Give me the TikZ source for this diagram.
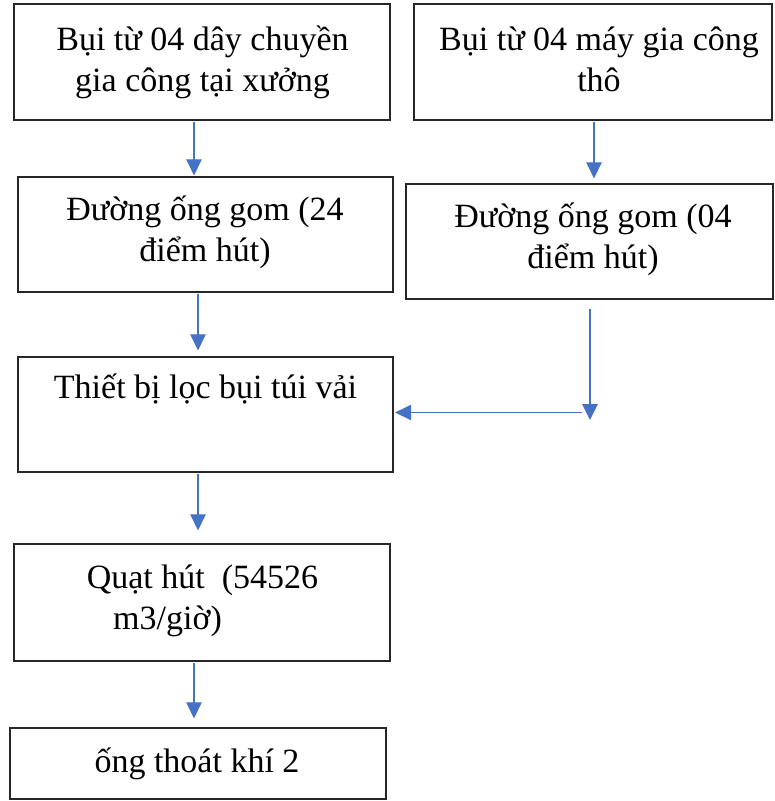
\documentclass[tikz,border=0pt]{standalone}
\usepackage{fontspec}
\setmainfont{Liberation Serif}
\usetikzlibrary{arrows.meta}

\definecolor{flowblue}{HTML}{4472C4}
\definecolor{boxline}{HTML}{262626}

\tikzset{
  box/.style={draw=boxline, line width=1.3pt, fill=white, inner sep=0pt},
  label/.style={inner sep=0pt, anchor=north, align=center,
    font=\fontsize{34}{41}\selectfont},
  arr/.style={draw=flowblue, line width=1.1pt,
    -{Triangle[width=15.5pt,length=16pt]}, flowblue}
}

% box from its two corners (pixel-like units, y pointing down)
\newcommand{\flowbox}[3]{%
  \node[box, minimum width=#3, minimum height=#2] (#1)}

\begin{document}
\begin{tikzpicture}[x=1pt, y=-1pt]
  \useasboundingbox (0,0) rectangle (775,801);

  % boxes
  \node[box, minimum width=376pt, minimum height=116pt] (b1) at (202,62) {};
  \node[box, minimum width=358pt, minimum height=116pt] (b2) at (593,62) {};
  \node[box, minimum width=375pt, minimum height=115pt] (b3) at (205.5,234.5) {};
  \node[box, minimum width=367pt, minimum height=115pt] (b4) at (589.5,241.5) {};
  \node[box, minimum width=375pt, minimum height=115pt] (b5) at (205.5,414.5) {};
  \node[box, minimum width=376pt, minimum height=117pt] (b6) at (202,602.5) {};
  \node[box, minimum width=376pt, minimum height=71pt] (b7) at (198,763.5) {};

  % texts (strut of 36pt puts the first baseline 36pt below the top)
  \newcommand{\fs}{\rule{0pt}{36pt}}
  \node[label] (t1) at (202.5,14) {\fs Bụi từ 04 dây chuyền\\gia công tại xưởng};
  \node[label] (t2) at (599,14) {\fs Bụi từ 04 máy gia công\\thô};
  \node[label] (t3) at (205,184) {\fs Đường ống gom (24\\điểm hút)};
  \node[label] (t4) at (593,191) {\fs Đường ống gom (04\\điểm hút)};
  \node[label] (t5) at (205.5,362) {\fs Thiết bị lọc bụi túi vải};
  \node[label] (t6) at (202.5,552) {\fs Quạt hút\ \ (54526\\m3/giờ)\hspace*{70pt}};
  \node[label] (t7) at (197,736) {\fs ống thoát khí 2};

  % connectors
  \draw[arr, shorten <=1pt, shorten >=1pt]
    ([xshift=-8pt]b1.south) -- ([xshift=-8pt]b1.south |- b3.north);
  \draw[arr, shorten <=1pt, shorten >=5pt]
    ([xshift=1pt]b2.south) -- ([xshift=1pt]b2.south |- b4.north);
  \draw[arr, shorten <=1pt, shorten >=6pt]
    ([xshift=-7.5pt]b3.south) -- ([xshift=-7.5pt]b3.south |- b5.north);
  \coordinate (j4) at (590,420);
  \draw[arr, shorten <=9pt] ([xshift=0.5pt]b4.south) -- (j4);
  \coordinate (h4) at (582,412.5);
  \draw[arr, shorten >=1.5pt] (h4) -- (b5.east |- h4);
  \draw[arr, shorten <=1pt, shorten >=13pt]
    ([xshift=-7.5pt]b5.south) -- ([xshift=-7.5pt]b5.south |- b6.north);
  \draw[arr, shorten <=1pt, shorten >=9pt]
    ([xshift=-8pt]b6.south) -- ([xshift=-8pt]b6.south |- b7.north);
\end{tikzpicture}
\end{document}
